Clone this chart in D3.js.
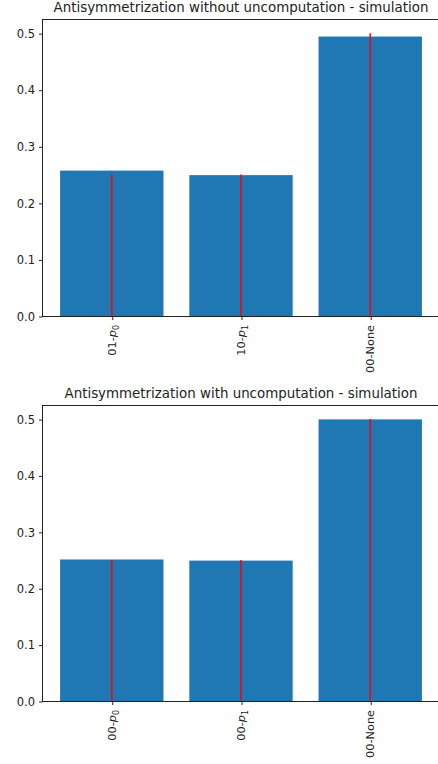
<!DOCTYPE html>
<html>
<head>
<meta charset="utf-8">
<script src="https://cdn.jsdelivr.net/npm/d3@7"></script>
<style>
  body { margin: 0; background: #fff; }
  svg { display: block; font-family: "DejaVu Sans", sans-serif; }
</style>
</head>
<body>
<svg id="chart" width="438" height="764"></svg>
<script>
// label parts: prefix, italic symbol, subscript
var labelsTop = [["01-", "p", "0"], ["10-", "p", "1"], ["00-None", "", ""]];
var labelsBottom = [["00-", "p", "0"], ["00-", "p", "1"], ["00-None", "", ""]];
var simTop = [0.257, 0.249, 0.494];
var simBottom = [0.251, 0.249, 0.4995];
var expected = [0.25, 0.25, 0.5];
var yTicks = [0, 0.1, 0.2, 0.3, 0.4, 0.5];

var svg = d3.select("#chart");

var drawPanel = function (title, labels, values, top, bottom) {
    var left = 42, right = 440;
    var x = d3.scaleLinear().domain([-0.54, 2.54]).range([left, right]);
    var y = d3.scaleLinear().domain([0, 0.525]).range([bottom, top]);
    var g = svg.append("g");

    g.selectAll("rect.bar")
        .data(values)
        .enter()
        .append("rect")
        .attr("class", "bar")
        .attr("x", function (d, i) { return x(i - 0.4); })
        .attr("width", function (d, i) { return x(i + 0.4) - x(i - 0.4); })
        .attr("y", function (d) { return y(d); })
        .attr("height", function (d) { return y(0) - y(d); })
        .attr("fill", "#1f77b4");

    g.selectAll("line.expected")
        .data(expected)
        .enter()
        .append("line")
        .attr("x1", function (d, i) { return x(i); })
        .attr("x2", function (d, i) { return x(i); })
        .attr("y1", y(0))
        .attr("y2", function (d) { return y(d); })
        .attr("stroke", "red")
        .attr("stroke-width", 1.5);

    // frame
    g.append("rect")
        .attr("x", left + 0.5).attr("y", top + 0.5)
        .attr("width", right - left).attr("height", bottom - top)
        .attr("fill", "none").attr("stroke", "#222").attr("stroke-width", 1);

    var yAxis = g.append("g")
        .attr("transform", "translate(" + (left + 0.5) + ",0.5)")
        .call(d3.axisLeft(y).tickValues(yTicks).tickFormat(d3.format(".1f")).tickSize(3.5).tickPadding(4));
    yAxis.select(".domain").remove();
    yAxis.selectAll("text").attr("font-size", 11.5).attr("fill", "#222")
        .attr("font-family", "DejaVu Sans");
    yAxis.selectAll("line").attr("stroke", "#222");

    var xAxis = g.append("g")
        .attr("transform", "translate(0.5," + (bottom + 0.5) + ")")
        .call(d3.axisBottom(x).tickValues([0, 1, 2]).tickFormat("").tickSize(3.5));
    xAxis.select(".domain").remove();
    xAxis.selectAll("line").attr("stroke", "#222");

    var lab = g.selectAll("text.xlab")
        .data(labels)
        .enter()
        .append("text")
        .attr("class", "xlab")
        .attr("transform", function (d, i) {
            return "translate(" + x(i) + "," + (bottom + 9) + ") rotate(-90)";
        })
        .attr("text-anchor", "end")
        .attr("dy", "0.35em")
        .attr("font-size", 11.3)
        .attr("fill", "#222");
    lab.append("tspan").text(function (d) { return d[0]; });
    lab.append("tspan").attr("font-style", "italic").text(function (d) { return d[1]; });
    lab.append("tspan").attr("font-size", 8).attr("dy", 3).text(function (d) { return d[2]; });

    g.append("text")
        .attr("x", (left + right) / 2)
        .attr("y", top - 7)
        .attr("text-anchor", "middle")
        .attr("font-size", 13.4)
        .attr("fill", "#222")
        .text(title);
};

drawPanel("Antisymmetrization without uncomputation - simulation", labelsTop, simTop, 19, 316);
drawPanel("Antisymmetrization with uncomputation - simulation", labelsBottom, simBottom, 405, 701);
</script>
</body>
</html>
